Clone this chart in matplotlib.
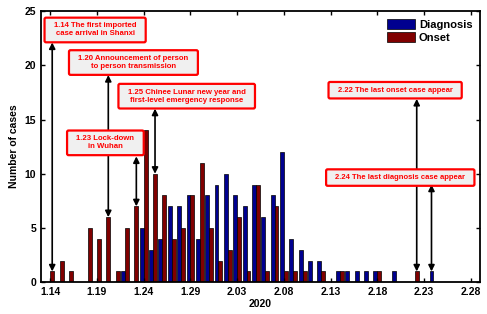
import matplotlib

matplotlib.use("Agg")
import matplotlib.pyplot as plt  # noqa: E402
import numpy as np  # noqa: E402
from matplotlib.patches import BoxStyle  # noqa: E402

plt.rcParams["font.family"] = ["Liberation Sans", "DejaVu Sans"]
plt.rcParams["font.weight"] = "bold"

# days since 1.14 (2020); Jan has 31 days so 1.29 + 5 -> 2.03
TICK_LABELS = ["1.14", "1.19", "1.24", "1.29", "2.03", "2.08", "2.13", "2.18", "2.23", "2.28"]

diagnosis = [0, 0, 0, 0, 0, 0, 0, 0, 1, 0,
             5, 3, 4, 7, 7, 8, 4, 8, 9, 10,
             8, 7, 9, 6, 8, 12, 4, 3, 2, 2,
             0, 1, 1, 1, 1, 1, 0, 1, 0, 0,
             0, 1, 0, 0, 0, 0]
onset = [1, 2, 1, 0, 5, 4, 6, 1, 5, 7,
         14, 10, 8, 4, 5, 8, 11, 5, 2, 3,
         6, 1, 9, 1, 7, 1, 1, 1, 0, 1,
         0, 1, 0, 0, 0, 1, 0, 0, 0, 1,
         0, 0, 0, 0, 0, 0]

# events: (day, series the arrow points at, arrow top, text centre x, y, text, size)
events = [
    (0, "onset", 22.1, 4.8, 23.25, "1.14 The first imported\ncase arrival in Shanxi", 5.6),
    (6, "onset", 19.1, 8.9, 20.25, "1.20 Announcement of person\nto person transmission", 5.6),
    (9, "onset", 11.6, 5.9, 12.85, "1.23 Lock-down\nin Wuhan", 5.6),
    (11, "onset", 16.0, 14.6, 17.15, "1.25 Chinee Lunar new year and\nfirst-level emergency response", 5.6),
    (39, "onset", 16.9, 36.9, 17.7, "2.22 The last onset case appear", 5.5),
    (41, "diagnosis", 9.0, 37.45, 9.65, "2.24 The last diagnosis case appear", 5.5),
]

BLUE = "#00008f"
RED = "#800000"
w = 0.42


def wide_box(x0, y0, width, height, mutation_size):
    # more padding left/right than top/bottom, like the matlab text boxes
    px, py = 1.2 * mutation_size, 0.62 * mutation_size
    return BoxStyle.Round(pad=0, rounding_size=0.2)(
        x0 - px, y0 - py, width + 2 * px, height + 2 * py, mutation_size)


days = np.arange(len(diagnosis))
fig = plt.figure(figsize=(4.87, 3.14), dpi=100)
ax = fig.add_axes([0.084, 0.101, 0.902, 0.864])
ax.bar(days - w / 2, diagnosis, w, color=BLUE, edgecolor="black", lw=0.5, label="Diagnosis")
ax.bar(days + w / 2, onset, w, color=RED, edgecolor="black", lw=0.5, label="Onset")

series = {"diagnosis": (diagnosis, -w / 2), "onset": (onset, w / 2)}
for day, which, top, tx, ty, txt, fs in events:
    vals, off = series[which]
    ax.annotate("", xy=(day + off, top), xytext=(day + off, vals[day]),
                arrowprops=dict(arrowstyle="<|-|>", color="black", lw=1.2,
                                mutation_scale=9, shrinkA=0, shrinkB=0))
    ax.text(tx, ty, txt, color="red", fontsize=fs, fontweight="bold",
            ha="center", va="center", multialignment="center",
            bbox=dict(boxstyle=wide_box, fc="#f0f0f0", ec="red", lw=1.6))

ax.set_xlim(-1, 46)
ax.set_ylim(0, 25)
ax.set_xticks(np.arange(0, 46, 5))
ax.set_xticklabels(TICK_LABELS)
ax.set_yticks(np.arange(0, 26, 5))
ax.tick_params(direction="in", top=True, right=True, labelsize=7.5, length=3, width=1)
for lab in ax.get_xticklabels() + ax.get_yticklabels():
    lab.set_fontweight("bold")
for sp in ax.spines.values():
    sp.set_linewidth(1.3)
ax.set_xlabel("2020", fontsize=7.5, fontweight="bold", labelpad=1)
ax.set_ylabel("Number of cases", fontsize=7.5, fontweight="bold", labelpad=4)
ax.legend(loc="upper right", frameon=False, handlelength=2.6,
          handleheight=1.1, borderaxespad=0.3, labelspacing=0.15, handletextpad=0.3,
          prop=dict(weight="bold", size=8))

fig.savefig("out.png", dpi=100)
